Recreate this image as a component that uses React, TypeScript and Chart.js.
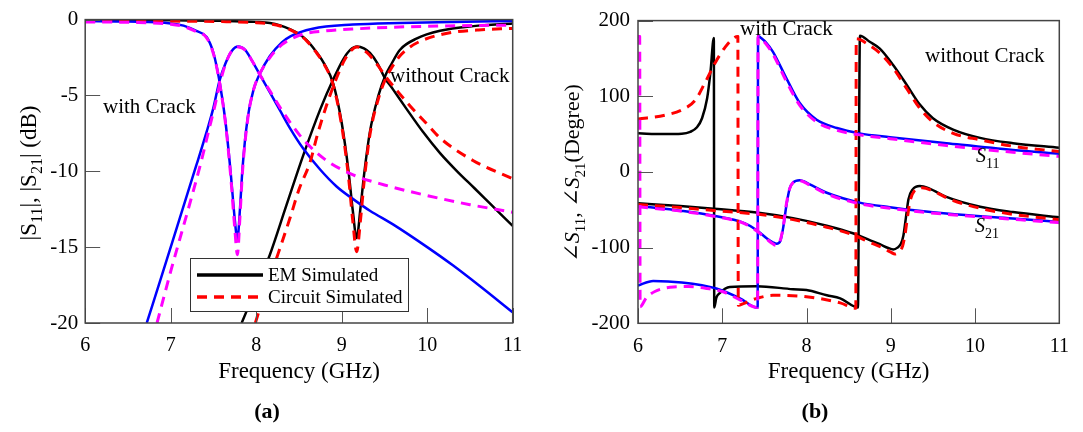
import React, { useEffect, useRef } from "react";
import { Chart, registerables } from "chart.js";

Chart.register(...registerables);

const SERIF = '"Liberation Serif", "Times New Roman", Times, serif';

// ---------------- Panel (a): |S11|, |S21| in dB ----------------
const magXTicks = [6, 7, 8, 9, 10, 11];
const magYTicks = [0, -5, -10, -15, -20];

// EM simulated, without crack (black)
const emS11NoCrackF = [6, 7, 7.6, 8.0, 8.16, 8.28, 8.4, 8.5, 8.59, 8.7, 8.8, 8.9, 9.0, 9.08, 9.13, 9.175, 9.22, 9.26, 9.33, 9.43, 9.51, 9.57, 9.68, 9.88, 10.15, 10.54, 11];
const emS11NoCrackDb = [-0.02, -0.04, -0.08, -0.15, -0.22, -0.38, -0.65, -0.95, -1.35, -2.1, -2.95, -4.2, -6.8, -10.0, -12.6, -14.4, -12.4, -10.3, -7.4, -5.0, -3.7, -3.05, -2.0, -1.24, -0.74, -0.43, -0.26];
const emS21NoCrackF = [7.83, 8.0, 8.16, 8.35, 8.55, 8.75, 8.9, 9.02, 9.1, 9.18, 9.26, 9.33, 9.42, 9.5, 9.6, 9.76, 9.95, 10.15, 10.35, 10.55, 10.73, 11];
const emS21NoCrackDb = [-20, -17.7, -15.5, -12.3, -8.95, -5.9, -3.95, -2.6, -2.0, -1.78, -1.9, -2.2, -2.9, -3.8, -4.6, -5.9, -7.4, -8.8, -10.0, -11.1, -12.1, -13.6];

// Circuit simulated, without crack (red dashed)
const ckS11NoCrackF = [6, 7, 7.6, 8.0, 8.16, 8.28, 8.4, 8.5, 8.59, 8.7, 8.8, 8.9, 9.0, 9.08, 9.13, 9.175, 9.22, 9.26, 9.33, 9.43, 9.51, 9.57, 9.68, 9.8, 9.95, 10.15, 10.35, 10.6, 11];
const ckS11NoCrackDb = [-0.08, -0.1, -0.13, -0.2, -0.28, -0.42, -0.68, -0.98, -1.4, -2.15, -3.0, -4.3, -7.0, -10.4, -13.3, -15.3, -13.2, -10.8, -7.6, -5.2, -3.95, -3.3, -2.4, -1.8, -1.35, -1.0, -0.8, -0.68, -0.58];
const ckS21NoCrackF = [7.99, 8.1, 8.24, 8.4, 8.5, 8.63, 8.72, 8.82, 8.94, 9.05, 9.18, 9.3, 9.42, 9.52, 9.65, 9.8, 10.0, 10.15, 10.54, 11];
const ckS21NoCrackDb = [-20, -18, -15.7, -13, -11.2, -9.4, -7.5, -5.7, -3.85, -2.5, -1.8, -2.2, -3.0, -3.8, -4.7, -5.7, -6.9, -7.8, -9.3, -10.5];

// EM simulated, with crack (blue)
const emS11CrackF = [6, 6.5, 7.0, 7.15, 7.3, 7.42, 7.5, 7.57, 7.64, 7.7, 7.75, 7.78, 7.81, 7.84, 7.9, 7.97, 8.04, 8.16, 8.3, 8.4, 8.66, 9.13, 9.68, 10.3, 11];
const emS11CrackDb = [-0.1, -0.13, -0.25, -0.4, -0.75, -1.15, -2.2, -4.05, -6.7, -10, -13.2, -14.5, -12.5, -9.8, -6.5, -4.6, -3.6, -2.4, -1.5, -1.1, -0.6, -0.33, -0.22, -0.15, -0.1];
const emS21CrackF = [6.72, 6.9, 7.1, 7.3, 7.42, 7.5, 7.57, 7.64, 7.71, 7.79, 7.87, 7.95, 8.04, 8.16, 8.28, 8.4, 8.55, 8.75, 8.94, 9.15, 9.33, 9.6, 10.0, 10.3, 10.6, 11];
const emS21CrackDb = [-20, -16.8, -13.2, -9.6, -7.4, -5.8, -4.05, -2.9, -2.1, -1.78, -2.0, -2.7, -3.6, -4.8, -6.0, -7.2, -8.5, -9.9, -11.0, -11.9, -12.6, -13.5, -15.0, -16.2, -17.5, -19.3];

// Circuit simulated, with crack (magenta dashed)
const ckS11CrackF = [6, 6.5, 7.0, 7.15, 7.3, 7.42, 7.5, 7.57, 7.64, 7.7, 7.75, 7.78, 7.81, 7.84, 7.9, 7.97, 8.04, 8.16, 8.3, 8.4, 8.55, 8.8, 9.2, 9.6, 10.2, 11];
const ckS11CrackDb = [-0.15, -0.18, -0.3, -0.45, -0.8, -1.2, -2.25, -4.1, -6.8, -10.2, -13.8, -15.5, -13.0, -10.0, -6.6, -4.6, -3.6, -2.5, -1.65, -1.3, -0.95, -0.75, -0.6, -0.5, -0.42, -0.36];
const ckS21CrackF = [6.84, 7.0, 7.2, 7.35, 7.45, 7.52, 7.58, 7.64, 7.71, 7.79, 7.87, 7.95, 8.04, 8.16, 8.28, 8.4, 8.55, 8.8, 9.14, 9.5, 10.0, 10.5, 11];
const ckS21CrackDb = [-20, -16.6, -12.6, -9.5, -7.2, -5.6, -4.1, -2.95, -2.1, -1.8, -2.0, -2.7, -3.6, -4.7, -5.8, -6.8, -7.9, -9.2, -10.25, -10.9, -11.6, -12.2, -12.7];

// ---------------- Panel (b): phase in degrees ----------------
const phXTicks = [6, 7, 8, 9, 10, 11];
const phYTicks = [200, 100, 0, -100, -200];

const emP11NoCrackF = [6, 6.3, 6.52, 6.62, 6.7, 6.76, 6.82, 6.86, 6.9, 6.905, 6.93, 6.97, 7.09, 7.41, 7.84, 8.0, 8.24, 8.4, 8.61, 8.634, 8.75, 8.87, 9.03, 9.19, 9.345, 9.5, 9.74, 10.06, 10.45, 11];
const emP11NoCrackDeg = [51, 50, 50.5, 53, 59, 71, 97, 132, 177, -179, -166, -160, -152, -151, -155, -156, -163, -167, -179, 180, 172, 163, 141, 115, 89, 71, 56, 45, 38, 32];
const ckP11NoCrackF = [6, 6.32, 6.52, 6.68, 6.8, 6.92, 7.035, 7.135, 7.185, 7.19, 7.25, 7.33, 7.41, 7.6, 8.0, 8.4, 8.585, 8.59, 8.75, 8.87, 9.03, 9.19, 9.345, 9.5, 9.74, 10.06, 10.45, 11];
const ckP11NoCrackDeg = [70, 75, 82, 95, 119, 145, 165, 177, 179, -176, -174, -170, -167, -163, -165, -173, -180, 176, 167, 157, 137, 110, 84, 66, 51, 42.5, 34, 27];
const emP21NoCrackF = [6, 6.5, 6.9, 7.43, 7.84, 8.24, 8.55, 8.75, 8.87, 8.97, 9.03, 9.08, 9.12, 9.15, 9.18, 9.21, 9.26, 9.345, 9.46, 9.66, 10.06, 10.45, 11];
const emP21NoCrackDeg = [-41.5, -45, -48.5, -54, -61, -71, -81, -90, -95.5, -100.5, -102.5, -100, -95, -84, -60, -36, -23, -18.5, -22, -33, -46, -53, -60];
const ckP21NoCrackF = [6, 6.5, 6.9, 7.43, 7.84, 8.24, 8.55, 8.75, 8.9, 9.0, 9.05, 9.1, 9.14, 9.17, 9.2, 9.23, 9.28, 9.37, 9.5, 9.7, 10.06, 10.45, 11];
const ckP21NoCrackDeg = [-43, -47, -51, -56, -63, -73, -83, -93, -100, -106, -108.5, -105, -98, -82, -58, -38, -25, -21, -25, -36, -48, -56, -63];

const emP11CrackF = [6, 6.18, 6.52, 6.93, 7.21, 7.42, 7.425, 7.46, 7.52, 7.6, 7.76, 7.92, 8.12, 8.36, 8.63, 8.99, 9.66, 10.45, 11];
const emP11CrackDeg = [-150, -144, -146, -154, -167, -179.5, 180, 177, 171, 159, 124, 91, 69, 58, 51, 46, 38, 29, 24];
const ckP11CrackF = [6, 6.02, 6.025, 6.1, 6.2, 6.42, 6.6, 6.82, 7.0, 7.21, 7.42, 7.425, 7.46, 7.52, 7.6, 7.76, 7.92, 8.12, 8.36, 8.63, 8.99, 9.66, 10.45, 11];
const ckP11CrackDeg = [179, 179, -178, -166, -158, -152, -151.5, -154, -158, -169, -179, 179, 176, 169, 156, 120, 88, 66, 55, 49, 44, 35, 26, 20.5];
const emP21CrackF = [6, 6.52, 6.9, 7.27, 7.41, 7.53, 7.6, 7.645, 7.69, 7.724, 7.764, 7.8, 7.84, 7.92, 8.04, 8.24, 8.63, 8.99, 9.66, 10.45, 11];
const emP21CrackDeg = [-45, -51.5, -58, -68, -77, -88, -93, -95, -91, -73, -42, -22, -14, -11, -16.5, -27.5, -40.5, -46.5, -55, -61.5, -66];
const ckP21CrackF = [6, 6.52, 6.9, 7.27, 7.41, 7.53, 7.6, 7.635, 7.68, 7.72, 7.76, 7.8, 7.84, 7.92, 8.04, 8.24, 8.63, 8.99, 9.66, 10.45, 11];
const ckP21CrackDeg = [-46, -52, -58.5, -68.5, -78, -89, -95, -97, -93, -75, -43, -22, -14, -11.5, -17.5, -29, -42, -48, -56, -62.5, -67];

const legendLabels = ["EM Simulated", "Circuit Simulated"];

type Run = { t: string; sub?: boolean; it?: boolean; fam?: string };

function pts(f: number[], v: number[]) {
  return f.map((x, i) => ({ x, y: v[i] }));
}

function line(label: string, f: number[], v: number[], color: string, dashed: boolean) {
  return {
    label,
    data: pts(f, v),
    borderColor: color,
    backgroundColor: color,
    borderWidth: dashed ? 3 : 2.5,
    borderDash: dashed ? [10, 7] : [],
    borderCapStyle: "butt",
    borderJoinStyle: "round",
    pointRadius: 0,
    fill: false,
    cubicInterpolationMode: "monotone",
  } as any;
}

function drawRuns(
  ctx: CanvasRenderingContext2D,
  runs: Run[],
  x: number,
  y: number,
  size: number,
  align: "center" | "left",
  rotate = false,
  bold = false
) {
  ctx.save();
  ctx.translate(x, y);
  if (rotate) ctx.rotate(-Math.PI / 2);
  const subSize = Math.round(size * 0.68);
  const fontFor = (r: Run) =>
    `${r.it ? "italic " : ""}${bold ? "bold " : ""}${r.sub ? subSize : size}px ${r.fam || SERIF}`;
  let total = 0;
  const widths = runs.map((r) => {
    ctx.font = fontFor(r);
    const w = ctx.measureText(r.t).width;
    total += w;
    return w;
  });
  let cx = align === "center" ? -total / 2 : 0;
  ctx.textBaseline = "alphabetic";
  ctx.textAlign = "left";
  ctx.fillStyle = "#000";
  runs.forEach((r, i) => {
    ctx.font = fontFor(r);
    ctx.fillText(r.t, cx, r.sub ? size * 0.28 : 0);
    cx += widths[i];
  });
  ctx.restore();
}

function framePlugin(extra: (ctx: CanvasRenderingContext2D, chart: any) => void) {
  return {
    id: "frame",
    afterDraw(chart: any) {
      const ctx: CanvasRenderingContext2D = chart.ctx;
      const { left, right, top, bottom } = chart.chartArea;
      const xs = chart.scales.x;
      const ys = chart.scales.y;
      ctx.save();
      ctx.strokeStyle = "#555";
      ctx.lineWidth = 1;
      ctx.setLineDash([]);
      ctx.beginPath();
      xs.ticks.forEach((t: any) => {
        const px = Math.round(xs.getPixelForValue(t.value)) + 0.5;
        ctx.moveTo(px, bottom);
        ctx.lineTo(px, bottom - 15);
      });
      ys.ticks.forEach((t: any) => {
        const py = Math.round(ys.getPixelForValue(t.value)) + 0.5;
        ctx.moveTo(left, py);
        ctx.lineTo(left + 15, py);
      });
      ctx.stroke();
      ctx.strokeStyle = "#444";
      ctx.lineWidth = 1.5;
      ctx.strokeRect(left, top, right - left, bottom - top);
      ctx.restore();
      extra(ctx, chart);
    },
  };
}

function baseOptions(
  xTicks: number[],
  yTicks: number[],
  yMin: number,
  yMax: number,
  padTop: number,
  padRight: number,
  yWidth: number,
  xHeight: number,
  yPad: number
) {
  const font = { family: SERIF, size: 20 };
  return {
    responsive: false,
    animation: false,
    events: [],
    layout: { padding: { top: padTop, right: padRight, left: 0, bottom: 0 } },
    plugins: { legend: { display: false }, tooltip: { enabled: false }, title: { display: false } },
    scales: {
      x: {
        type: "linear",
        min: 6,
        max: 11,
        afterBuildTicks: (s: any) => {
          s.ticks = xTicks.map((v) => ({ value: v }));
        },
        afterFit: (s: any) => {
          s.height = xHeight;
        },
        ticks: { font, color: "#000", padding: 11, maxRotation: 0 },
        grid: { display: false, drawTicks: false },
        border: { display: false },
      },
      y: {
        type: "linear",
        min: yMin,
        max: yMax,
        afterBuildTicks: (s: any) => {
          s.ticks = yTicks.map((v) => ({ value: v }));
        },
        afterFit: (s: any) => {
          s.width = yWidth;
        },
        ticks: { font: { family: SERIF, size: 21 }, color: "#000", padding: yPad },
        grid: { display: false, drawTicks: false },
        border: { display: false },
      },
    },
  } as any;
}

export default function App() {
  const leftRef = useRef<HTMLCanvasElement>(null);
  const rightRef = useRef<HTMLCanvasElement>(null);

  useEffect(() => {
    const leftExtra = (ctx: CanvasRenderingContext2D) => {
      drawRuns(ctx, [{ t: "|S" }, { t: "11", sub: true }, { t: "|, |S" }, { t: "21", sub: true }, { t: "| (dB)" }], 36, 173, 23, "center", true);
      drawRuns(ctx, [{ t: "Frequency (GHz)" }], 299, 378, 23, "center");
      drawRuns(ctx, [{ t: "(a)" }], 267, 418, 22, "center", false, true);
      drawRuns(ctx, [{ t: "with Crack" }], 103, 113, 21, "left");
      drawRuns(ctx, [{ t: "without Crack" }], 390, 82, 21, "left");
      // legend
      ctx.save();
      ctx.fillStyle = "#fff";
      ctx.fillRect(190.5, 258.5, 218, 53);
      ctx.strokeStyle = "#333";
      ctx.lineWidth = 1;
      ctx.strokeRect(190.5, 258.5, 218, 53);
      ctx.lineWidth = 3.5;
      ctx.lineCap = "butt";
      ctx.strokeStyle = "#000";
      ctx.setLineDash([]);
      ctx.beginPath();
      ctx.moveTo(197, 275);
      ctx.lineTo(263, 275);
      ctx.stroke();
      ctx.strokeStyle = "#ff0000";
      ctx.setLineDash([10, 7]);
      ctx.beginPath();
      ctx.moveTo(197, 297);
      ctx.lineTo(263, 297);
      ctx.stroke();
      ctx.setLineDash([]);
      ctx.fillStyle = "#000";
      ctx.font = `19px ${SERIF}`;
      ctx.textBaseline = "middle";
      ctx.textAlign = "left";
      ctx.fillText(legendLabels[0], 268, 276);
      ctx.fillText(legendLabels[1], 268, 298);
      ctx.restore();
    };

    const ANG = '"DejaVu Serif", "DejaVu Sans", serif';
    const rightExtra = (ctx: CanvasRenderingContext2D) => {
      drawRuns(
        ctx,
        [
          { t: "∠", fam: ANG },
          { t: "S", it: true },
          { t: "11", sub: true },
          { t: ", " },
          { t: "∠", fam: ANG },
          { t: "S", it: true },
          { t: "21", sub: true },
          { t: "(Degree)" },
        ],
        39,
        173,
        22,
        "center",
        true
      );
      drawRuns(ctx, [{ t: "Frequency (GHz)" }], 308.6, 378, 23, "center");
      drawRuns(ctx, [{ t: "(b)" }], 275, 418, 22, "center", false, true);
      drawRuns(ctx, [{ t: "with Crack" }], 200, 35, 21, "left");
      drawRuns(ctx, [{ t: "without Crack" }], 385, 62, 21, "left");
      drawRuns(ctx, [{ t: "S", it: true }, { t: "11", sub: true }], 436, 162, 20, "left");
      drawRuns(ctx, [{ t: "S", it: true }, { t: "21", sub: true }], 435, 232, 20, "left");
    };

    const left = new Chart(leftRef.current as HTMLCanvasElement, {
      type: "line",
      data: {
        datasets: [
          line("Circuit S11 crack", ckS11CrackF, ckS11CrackDb, "#ff00ff", true),
          line("Circuit S21 crack", ckS21CrackF, ckS21CrackDb, "#ff00ff", true),
          line("Circuit S11", ckS11NoCrackF, ckS11NoCrackDb, "#ff0000", true),
          line("Circuit S21", ckS21NoCrackF, ckS21NoCrackDb, "#ff0000", true),
          line("EM S11 crack", emS11CrackF, emS11CrackDb, "#0000ff", false),
          line("EM S21 crack", emS21CrackF, emS21CrackDb, "#0000ff", false),
          line("EM S11", emS11NoCrackF, emS11NoCrackDb, "#000000", false),
          line("EM S21", emS21NoCrackF, emS21NoCrackDb, "#000000", false),
        ],
      },
      options: baseOptions(magXTicks, magYTicks, -20, 0, 16, 27.3, 85.2, 109, 7),
      plugins: [framePlugin(leftExtra)],
    } as any);

    const right = new Chart(rightRef.current as HTMLCanvasElement, {
      type: "line",
      data: {
        datasets: [
          line("Circuit ∠S11 crack", ckP11CrackF, ckP11CrackDeg, "#ff00ff", true),
          line("Circuit ∠S21 crack", ckP21CrackF, ckP21CrackDeg, "#ff00ff", true),
          line("Circuit ∠S11", ckP11NoCrackF, ckP11NoCrackDeg, "#ff0000", true),
          line("Circuit ∠S21", ckP21NoCrackF, ckP21NoCrackDeg, "#ff0000", true),
          line("EM ∠S11 crack", emP11CrackF, emP11CrackDeg, "#0000ff", false),
          line("EM ∠S21 crack", emP21CrackF, emP21CrackDeg, "#0000ff", false),
          line("EM ∠S11", emP11NoCrackF, emP11NoCrackDeg, "#000000", false),
          line("EM ∠S21", emP21NoCrackF, emP21NoCrackDeg, "#000000", false),
        ],
      },
      options: baseOptions(phXTicks, phYTicks, -200, 200, 19.3, 23.7, 98, 108.7, 8),
      plugins: [framePlugin(rightExtra)],
    } as any);

    return () => {
      left.destroy();
      right.destroy();
    };
  }, []);

  return (
    <div style={{ position: "absolute", left: 0, top: 0, width: 1083, height: 432, background: "#fff" }}>
      <canvas ref={leftRef} width={540} height={432} style={{ position: "absolute", left: 0, top: 0, width: 540, height: 432 }} />
      <canvas ref={rightRef} width={543} height={432} style={{ position: "absolute", left: 540, top: 0, width: 543, height: 432 }} />
    </div>
  );
}
